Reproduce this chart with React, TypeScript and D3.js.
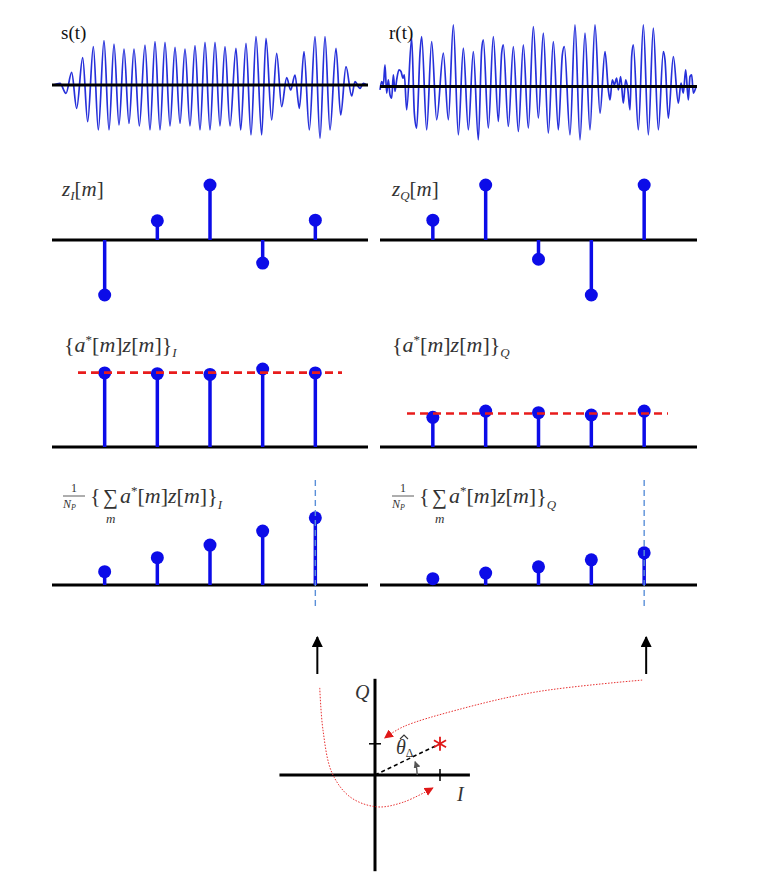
import React, { useEffect, useRef } from "react";
import * as d3 from "d3";

// waveform extrema: [time, amplitude]
const sWave: [number, number][] = [
  [10, 0], [30, 5], [48, -25], [65, 38], [80, -70], [98, 82], [113, -110], [130, 115], [145, -135],
  [162, 133], [177, -135], [192, 123], [207, -120], [222, 108], [237, -115], [252, 108], [268, -123],
  [285, 120], [300, -135], [315, 130], [330, -135], [345, 128], [360, -123], [375, 113], [390, -115],
  [405, 108], [420, -123], [435, 118], [450, -135], [465, 128], [480, -135], [495, 128], [510, -123],
  [525, 115], [540, -123], [558, 110], [572, -135], [588, 125], [603, -150], [618, 145], [635, -150],
  [648, 140], [665, -105], [680, 95], [695, -65], [710, 22], [722, -15], [735, 30], [748, -70],
  [762, 100], [778, -135], [795, 145], [810, -160], [825, 145], [840, -135], [858, 110], [872, -90],
  [888, 55], [905, -33], [915, 10], [930, -10], [940, 5], [950, 0],
];
const rWave: [number, number][] = [
  [15, -10], [20, 15], [25, 5], [30, 65], [35, -20], [40, 20], [45, -25], [50, -35], [55, 35],
  [60, -15], [65, 20], [72, 50], [78, 45], [84, 25], [88, 35], [95, -70], [110, 145], [118, -80],
  [125, -125], [135, 100], [140, 150], [155, -130], [170, 135], [185, -100], [205, 100], [220, -100],
  [235, 185], [250, -145], [265, 115], [280, -130], [295, 105], [310, -160], [320, 110], [325, 140],
  [340, -125], [355, 150], [370, -105], [380, 100], [385, 125], [400, -120], [415, 120], [430, -135],
  [445, 125], [460, -125], [475, 180], [490, -95], [505, 160], [520, -140], [535, 135], [550, -130],
  [562, 95], [568, 120], [585, -145], [600, 185], [615, -160], [630, 160], [645, -130], [660, 185],
  [675, -80], [690, 105], [700, -10], [705, -40], [712, 20], [718, 5], [725, 25], [730, -10],
  [737, 30], [745, -50], [752, 20], [758, -5], [765, -70], [770, 90], [775, 125], [790, -130],
  [805, 185], [820, -145], [835, 175], [850, -130], [865, 105], [870, 80], [880, -95], [895, 90],
  [910, -50], [918, 10], [925, -20], [932, 50], [940, -40], [945, 30], [950, 35], [955, -20], [963, 0],
];

const symbols = [0, 1, 2, 3, 4];
const zI = [-1, 0.35, 1, -0.42, 0.36];
const zQ = [0.36, 1, -0.35, -1, 1];
const derotI = [0.95, 0.94, 0.93, 1.0, 0.95];
const derotQ = [0.38, 0.46, 0.44, 0.41, 0.46];
const accumI = [0.19, 0.39, 0.57, 0.77, 0.96];
const accumQ = [0.09, 0.17, 0.26, 0.36, 0.46];

// phase estimate shown in the I/Q plane
const estimate = { I: 1.0, Q: 0.48 };
// annotation paths (I/Q units)
const pathFromQ: [number, number][] = [[4.11, 1.46], [2.49, 1.28], [1.26, 1.0], [0.43, 0.74], [0.15, 0.57]];
const pathFromI: [number, number][] = [[-0.85, 1.34], [-0.8, 0.69], [-0.66, 0.03], [-0.38, -0.34], [0.03, -0.49], [0.43, -0.42], [0.89, -0.2]];

const SERIF = "'Liberation Serif', 'DejaVu Serif', serif";
const TEXT = "#333";
const BLUE = "#0c0ce8";
const WAVE = "#2630da";

type Part = { t: string; it?: boolean; lvl?: number; fs?: number };

function mathText(g: any, x: number, y: number, fs: number, parts: Part[]) {
  const text = g.append("text").attr("x", x).attr("y", y)
    .attr("font-family", SERIF).attr("font-size", fs).attr("fill", TEXT);
  let cur = 0;
  parts.forEach((p) => {
    const lvl = p.lvl ?? 0;
    text.append("tspan").attr("dy", lvl - cur)
      .attr("font-style", p.it ? "italic" : "normal")
      .attr("font-size", p.fs ?? fs).text(p.t);
    cur = lvl;
  });
}

const azPart = (sub: string): Part[] => [
  { t: "{" }, { t: "a", it: true }, { t: "*", lvl: -8, fs: 13 }, { t: "[" }, { t: "m", it: true }, { t: "]" },
  { t: "z", it: true }, { t: "[" }, { t: "m", it: true }, { t: "]" }, { t: "}" }, { t: sub, it: true, lvl: 5, fs: 13 },
];

function sumLabel(g: any, x: number, y: number, sub: string) {
  g.append("text").attr("x", x + 9).attr("y", y - 11).attr("font-family", SERIF).attr("font-size", 12).attr("fill", TEXT).text("1");
  g.append("line").attr("x1", x + 1).attr("x2", x + 23).attr("y1", y - 7).attr("y2", y - 7).attr("stroke", TEXT).attr("stroke-width", 0.8);
  mathText(g, x + 1, y + 5, 12, [{ t: "N", it: true }, { t: "P", it: true, lvl: 2, fs: 8 }]);
  mathText(g, x + 28, y, 22, [{ t: "{" }]);
  g.append("text").attr("x", x + 41).attr("y", y + 1).attr("font-family", SERIF).attr("font-size", 21).attr("fill", TEXT).text("∑");
  mathText(g, x + 44, y + 20, 13, [{ t: "m", it: true }]);
  mathText(g, x + 58, y, 22, [
    { t: "a", it: true }, { t: "*", lvl: -8, fs: 13 }, { t: "[" }, { t: "m", it: true }, { t: "]" },
    { t: "z", it: true }, { t: "[" }, { t: "m", it: true }, { t: "]" }, { t: "}" }, { t: sub, it: true, lvl: 6, fs: 13 },
  ]);
}

export default function App() {
  const ref = useRef<SVGSVGElement>(null);

  useEffect(() => {
    const svg = d3.select(ref.current);
    svg.selectAll("*").remove();

    const defs = svg.append("defs");
    const marker = (id: string, color: string, size: number) =>
      defs.append("marker").attr("id", id).attr("viewBox", "0 0 10 10").attr("refX", 9).attr("refY", 5)
        .attr("markerWidth", size).attr("markerHeight", size).attr("markerUnits", "userSpaceOnUse")
        .attr("orient", "auto").append("path").attr("d", "M0,0 L10,5 L0,10 Z").attr("fill", color);
    marker("arBlack", "#000", 11);
    marker("arRed", "#e01818", 9);
    marker("arGray", "#555", 7);

    const panels = [
      { x0: 52, x1: 368 },
      { x0: 380, x1: 697 },
    ];

    // row 1: waveforms
    const waves = [
      { data: sWave, dom: [0, 960], rng: [50, 370], base: 85, label: "s(t)", lx: 61 },
      { data: rWave, dom: [0, 990], rng: [375, 705], base: 86.5, label: "r(t)", lx: 389 },
    ];
    waves.forEach((w, i) => {
      const x = d3.scaleLinear().domain(w.dom).range(w.rng);
      const y = d3.scaleLinear().domain([-150, 150]).range([w.base + 50, w.base - 50]);
      const line = d3.line<[number, number]>().x((d) => x(d[0])).y((d) => y(d[1])).curve(d3.curveMonotoneX);
      svg.append("path").attr("d", line(w.data)).attr("fill", "none").attr("stroke", WAVE).attr("stroke-width", 1.7);
      svg.append("line").attr("x1", panels[i].x0).attr("x2", panels[i].x1).attr("y1", y(0)).attr("y2", y(0))
        .attr("stroke", "#000").attr("stroke-width", 2.8);
      svg.append("text").attr("x", w.lx).attr("y", 39).attr("font-family", SERIF).attr("font-size", 19)
        .attr("fill", "#111").text(w.label);
    });

    const stemRow = (vals: number[], side: number, base: number, unit: number) => {
      const p = panels[side];
      const x = d3.scalePoint<number>().domain(symbols).range([p.x0, p.x1]).padding(1);
      const y = d3.scaleLinear().domain([0, 1]).range([base, base - unit]);
      const g = svg.append("g");
      g.append("line").attr("x1", p.x0).attr("x2", p.x1).attr("y1", base).attr("y2", base)
        .attr("stroke", "#000").attr("stroke-width", 2.8);
      g.selectAll("line.stem").data(vals).enter().append("line").attr("class", "stem")
        .attr("x1", (_, i) => x(i)!).attr("x2", (_, i) => x(i)!)
        .attr("y1", base).attr("y2", (d) => y(d))
        .attr("stroke", BLUE).attr("stroke-width", 3.5);
      g.selectAll("circle").data(vals).enter().append("circle")
        .attr("cx", (_, i) => x(i)!).attr("cy", (d) => y(d)).attr("r", 6.5).attr("fill", BLUE);
      return { g, x, y };
    };

    // row 2: z_I, z_Q
    stemRow(zI, 0, 240, 55);
    stemRow(zQ, 1, 240, 55);
    mathText(svg, 62, 196, 21, [{ t: "z", it: true }, { t: "I", it: true, lvl: 4, fs: 13 }, { t: "[", lvl: 0 }, { t: "m", it: true }, { t: "]" }]);
    mathText(svg, 392, 196, 21, [{ t: "z", it: true }, { t: "Q", it: true, lvl: 4, fs: 13 }, { t: "[", lvl: 0 }, { t: "m", it: true }, { t: "]" }]);

    // row 3: de-rotated products with their mean
    [derotI, derotQ].forEach((vals, side) => {
      const { g, y } = stemRow(vals, side, 447, 78);
      const p = panels[side];
      const m = d3.mean(vals)!;
      g.append("line").attr("x1", p.x0 + (side ? 27 : 26)).attr("x2", p.x1 - (side ? 29 : 26))
        .attr("y1", y(m)).attr("y2", y(m)).attr("stroke", "#e81c1c").attr("stroke-width", 2.6)
        .attr("stroke-dasharray", "8,5");
    });
    mathText(svg, 64, 352, 22, azPart("I"));
    mathText(svg, 392, 352, 22, azPart("Q"));

    // row 4: running averages
    [accumI, accumQ].forEach((vals, side) => {
      const { g, x } = stemRow(vals, side, 585, 70);
      const xl = x(symbols[symbols.length - 1])!;
      g.append("line").attr("x1", xl).attr("x2", xl).attr("y1", 480).attr("y2", 606)
        .attr("stroke", "#5b8fd8").attr("stroke-width", 1.4).attr("stroke-dasharray", "6,4");
      // arrow towards the I/Q plane
      svg.append("line").attr("x1", xl + 2).attr("x2", xl + 2).attr("y1", 674).attr("y2", 637)
        .attr("stroke", "#000").attr("stroke-width", 2).attr("marker-end", "url(#arBlack)");
    });
    sumLabel(svg, 62, 503, "I");
    sumLabel(svg, 391, 503, "Q");

    // I/Q plane
    const cx = d3.scaleLinear().domain([0, 1]).range([375, 440]);
    const cy = d3.scaleLinear().domain([0, 1]).range([775, 710]);
    const c = svg.append("g");
    c.append("line").attr("x1", cx(-1.47)).attr("x2", cx(1.46)).attr("y1", cy(0)).attr("y2", cy(0)).attr("stroke", "#000").attr("stroke-width", 3);
    c.append("line").attr("x1", cx(0)).attr("x2", cx(0)).attr("y1", cy(1.48)).attr("y2", cy(-1.48)).attr("stroke", "#000").attr("stroke-width", 3);
    c.append("line").attr("x1", cx(estimate.I)).attr("x2", cx(estimate.I)).attr("y1", cy(0) - 6).attr("y2", cy(0) + 6).attr("stroke", "#000").attr("stroke-width", 1.5);
    c.append("line").attr("x1", cx(0) - 6).attr("x2", cx(0) + 6).attr("y1", cy(estimate.Q)).attr("y2", cy(estimate.Q)).attr("stroke", "#000").attr("stroke-width", 1.5);
    c.append("line").attr("x1", cx(0)).attr("y1", cy(0)).attr("x2", cx(estimate.I)).attr("y2", cy(estimate.Q))
      .attr("stroke", "#000").attr("stroke-width", 1.6).attr("stroke-dasharray", "4,3");
    // angle arc
    const ang = Math.atan2(estimate.Q, estimate.I) * 0.72;
    const rr = 0.65;
    c.append("path")
      .attr("d", `M${cx(rr)},${cy(0)} A${cx(rr) - cx(0)},${cx(rr) - cx(0)} 0 0 0 ${cx(rr * Math.cos(ang))},${cy(rr * Math.sin(ang))}`)
      .attr("fill", "none").attr("stroke", "#555").attr("stroke-width", 1.4).attr("marker-end", "url(#arGray)");
    // estimate marker (asterisk)
    [90, 30, 150].forEach((a) => {
      const t = (a * Math.PI) / 180;
      c.append("line").attr("x1", cx(estimate.I) - 7 * Math.cos(t)).attr("x2", cx(estimate.I) + 7 * Math.cos(t))
        .attr("y1", cy(estimate.Q) - 7 * Math.sin(t)).attr("y2", cy(estimate.Q) + 7 * Math.sin(t))
        .attr("stroke", "#e01818").attr("stroke-width", 1.8);
    });
    mathText(c, 355, 699, 20, [{ t: "Q", it: true }]);
    mathText(c, 457, 801, 20, [{ t: "I", it: true }]);
    mathText(c, 396, 754, 20, [{ t: "θ", it: true }, { t: "Δ", lvl: 3, fs: 12 }]);
    c.append("path").attr("d", "M400,739 L404,735 L408,739").attr("fill", "none").attr("stroke", TEXT).attr("stroke-width", 1.1);

    const curve = d3.line<[number, number]>().x((d) => cx(d[0])).y((d) => cy(d[1])).curve(d3.curveCatmullRom);
    [pathFromQ, pathFromI].forEach((pts) => {
      c.append("path").attr("d", curve(pts)).attr("fill", "none").attr("stroke", "#e83030")
        .attr("stroke-width", 1).attr("stroke-dasharray", "1.5,1.5").attr("marker-end", "url(#arRed)");
    });
  }, []);

  return (
    <svg ref={ref} width={774} height={881}
      style={{ position: "absolute", left: 0, top: 0, background: "#fff", display: "block" }} />
  );
}
